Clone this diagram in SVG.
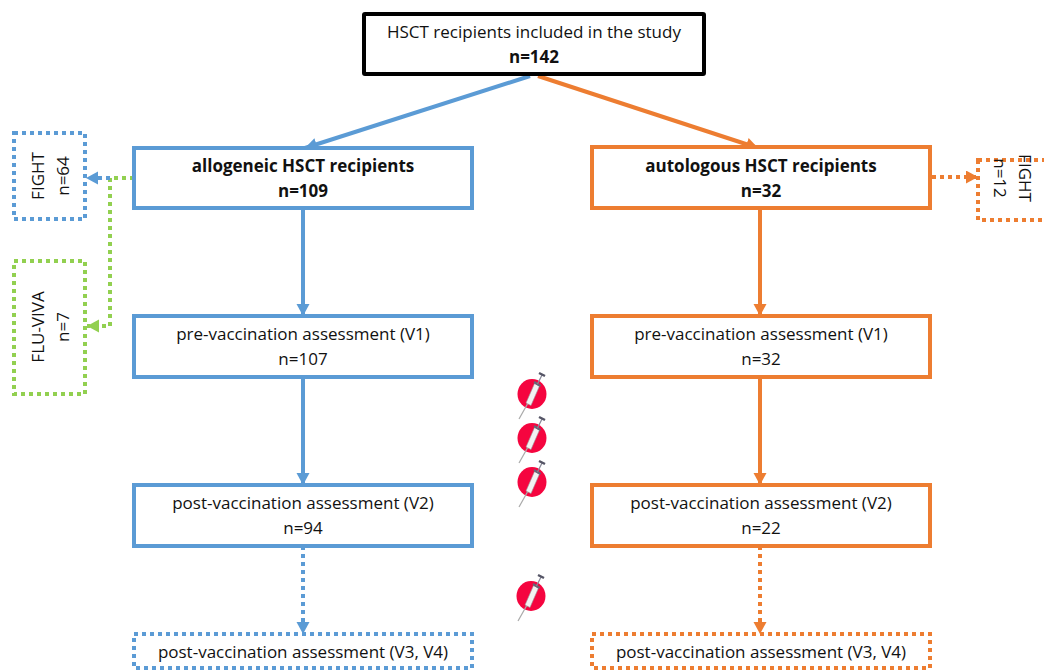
<svg xmlns="http://www.w3.org/2000/svg" xmlns:xlink="http://www.w3.org/1999/xlink" width="1044" height="671" viewBox="0 0 1044 671">
<style>
text{font-family:"Open Sans","Noto Sans","DejaVu Sans",sans-serif;font-size:17px;fill:#111;text-anchor:middle}
.b{font-weight:700}
rect{fill:#fff}
.k{stroke:#000;stroke-width:4}
.bs{fill:none;stroke:#5B9BD5;stroke-width:4}
.os{fill:none;stroke:#ED7D31;stroke-width:4}
.bd{stroke:#5B9BD5;stroke-width:4;stroke-dasharray:4 4}
.od{stroke:#ED7D31;stroke-width:4;stroke-dasharray:4 4}
.gd{stroke:#92D050;stroke-width:4;stroke-dasharray:4 4}
rect.bs,rect.os{fill:#fff}
rect.bd,rect.od,rect.gd{fill:#fff}
path.bd,path.od,path.gd{fill:none}
</style>
<defs>
<marker id="ab" markerUnits="userSpaceOnUse" markerWidth="14" markerHeight="14" refX="12" refY="6.5" orient="auto"><path d="M0 0L12 6.5L0 13z" fill="#5B9BD5"/></marker>
<marker id="ao" markerUnits="userSpaceOnUse" markerWidth="14" markerHeight="14" refX="12" refY="6.5" orient="auto"><path d="M0 0L12 6.5L0 13z" fill="#ED7D31"/></marker>
<marker id="ag" markerUnits="userSpaceOnUse" markerWidth="14" markerHeight="14" refX="12" refY="6.5" orient="auto"><path d="M0 0L12 6.5L0 13z" fill="#92D050"/></marker>
<g id="syr">
<ellipse cx="0" cy="0" rx="14.5" ry="15" fill="#F5053F"/>
<path d="M-13 25L-4 9" stroke="#aaa" stroke-width="1.2" fill="none"/>
<path d="M-6 9L-1 11.500L7.500-8L2.500-10.500z" fill="#f2f2f2" stroke="#999" stroke-width=".6"/>
<path d="M2-12L8.500-8" stroke="#667" stroke-width="2.200"/>
<path d="M5.500-10L10-19" stroke="#889" stroke-width="1.200"/>
<path d="M7-21L13-18" stroke="#556" stroke-width="2.500"/>
</g>
</defs>
<g id="connectors">
<path class="bs" d="M530 76L305 148" marker-end="url(#ab)"/>
<path class="os" d="M538 76L758 148" marker-end="url(#ao)"/>
<path class="bs" d="M303 208V316" marker-end="url(#ab)"/>
<path class="bs" d="M303 377V485" marker-end="url(#ab)"/>
<path class="bd" d="M303 546V634" marker-end="url(#ab)"/>
<path class="os" d="M760 208V316" marker-end="url(#ao)"/>
<path class="os" d="M760 377V485" marker-end="url(#ao)"/>
<path class="od" d="M760 546V634" marker-end="url(#ao)"/>
<path class="od" d="M932 177H978" marker-end="url(#ao)"/>
<path class="gd" d="M134 178H110V326H87" marker-end="url(#ag)"/>
<path class="bd" d="M110 178H86" marker-end="url(#ab)"/>
</g>
<g id="n-top"><rect class="k" x="364" y="14" width="340" height="60" rx="1"/><text x="534" y="38">HSCT recipients included in the study</text><text class="b" x="534" y="63">n=142</text></g>
<g id="n-allo"><rect class="bs" x="134" y="148" width="338" height="60"/><text class="b" x="303" y="172">allogeneic HSCT recipients</text><text class="b" x="303" y="197">n=109</text></g>
<g id="n-auto"><rect class="os" x="592" y="147" width="338" height="61"/><text class="b" x="761" y="172">autologous HSCT recipients</text><text class="b" x="761" y="197">n=32</text></g>
<g id="n-pre-a"><rect class="bs" x="134" y="316" width="338" height="61"/><text x="303" y="340">pre-vaccination assessment (V1)</text><text x="303" y="365">n=107</text></g>
<g id="n-pre-b"><rect class="os" x="592" y="316" width="338" height="61"/><text x="761" y="340">pre-vaccination assessment (V1)</text><text x="761" y="365">n=32</text></g>
<g id="n-post-a"><rect class="bs" x="134" y="485" width="338" height="61"/><text x="303" y="509">post-vaccination assessment (V2)</text><text x="303" y="534">n=94</text></g>
<g id="n-post-b"><rect class="os" x="592" y="485" width="338" height="61"/><text x="761" y="509">post-vaccination assessment (V2)</text><text x="761" y="534">n=22</text></g>
<g id="n-v34-a"><rect class="bd" x="134" y="634" width="338" height="34"/><text x="303" y="658">post-vaccination assessment (V3, V4)</text></g>
<g id="n-v34-b"><rect class="od" x="592" y="634" width="338" height="34"/><text x="761" y="658">post-vaccination assessment (V3, V4)</text></g>
<g id="n-fight-l"><rect class="bd" x="14" y="133" width="71" height="86"/><text transform="translate(44 176) rotate(-90)">FIGHT</text><text transform="translate(69 176) rotate(-90)">n=64</text></g>
<g id="n-flu"><rect class="gd" x="14" y="261" width="71" height="133"/><text transform="translate(44 327) rotate(-90)">FLU-VIVA</text><text transform="translate(69 327) rotate(-90)">n=7</text></g>
<g id="n-fight-r"><rect class="od" x="978" y="160" width="90" height="60"/><text transform="translate(1019 178) rotate(90)">FIGHT</text><text transform="translate(994 178) rotate(90)">n=12</text></g>
<g id="syringes">
<use href="#syr" x="532" y="394"/>
<use href="#syr" x="532" y="438"/>
<use href="#syr" x="532" y="482"/>
<use href="#syr" x="531" y="596"/>
</g>
</svg>
